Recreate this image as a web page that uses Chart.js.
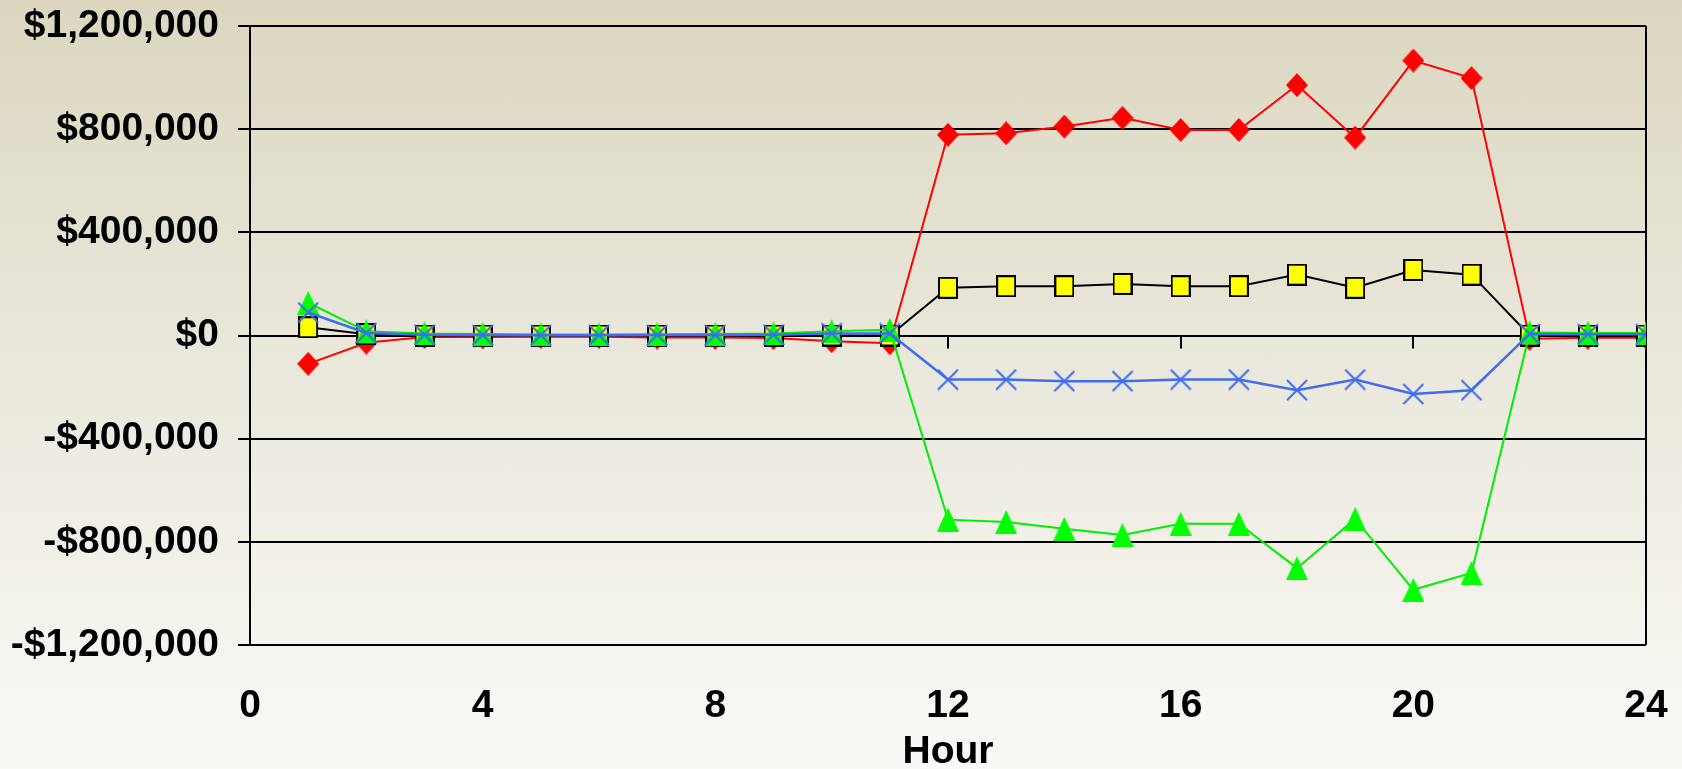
<!DOCTYPE html>
<html>
<head>
<meta charset="utf-8">
<script src="https://cdn.jsdelivr.net/npm/chart.js@4/dist/chart.umd.min.js"></script>
<style>
  html, body { margin: 0; padding: 0; }
  body {
    width: 1682px; height: 769px; overflow: hidden;
    background: linear-gradient(to bottom, #dbd7bf 0%, #e9e6da 43%, #faf9f5 100%);
  }
  #wrap { position: relative; width: 1682px; height: 769px; }
</style>
</head>
<body>
<div id="wrap"><canvas id="chart" width="1682" height="769"></canvas></div>
<script>
// Hourly values (dollars) for each series
const hours = [1, 2, 3, 4, 5, 6, 7, 8, 9, 10, 11, 12, 13, 14, 15, 16, 17, 18, 19, 20, 21, 22, 23, 24];

const redSeries = [-110000, -28000, -6000, -6000, -5000, -5000, -8000, -8000, -10000, -22000, -30000,
  778000, 784000, 810000, 844000, 797000, 797000, 971000, 767000, 1066000, 998000, -13000, -9000, -9000];

const yellowSeries = [32000, 5000, 0, 0, 0, 0, 0, 0, 0, 0, 0,
  185000, 191000, 191000, 200000, 191000, 191000, 236000, 185000, 254000, 236000, 0, 0, 0];

const greenSeries = [127000, 16000, 8000, 6000, 4000, 4000, 5000, 6000, 8000, 16000, 22000,
  -714000, -723000, -749000, -773000, -730000, -730000, -902000, -711000, -986000, -921000, 12000, 10000, 10000];

const blueSeries = [89000, 10000, 3000, 2000, 1000, 1000, 2000, 2000, 3000, 8000, 8000,
  -171000, -171000, -177000, -177000, -171000, -171000, -212000, -171000, -227000, -212000, 6000, 5000, 5000];

const yTicks = [-1200000, -800000, -400000, 0, 400000, 800000, 1200000];
const xTicks = [0, 4, 8, 12, 16, 20, 24];

const FONT = "'Liberation Sans', Arial, sans-serif";

function toPoints(values) {
  return hours.map((h, i) => ({ x: h, y: values[i] }));
}

function formatDollars(v) {
  const s = '$' + Math.abs(v).toLocaleString('en-US');
  return v < 0 ? '-' + s : s;
}

// Marker glyphs drawn on small canvases
function makeMarker(w, h, draw) {
  const c = document.createElement('canvas');
  c.width = w; c.height = h;
  draw(c.getContext('2d'), w, h);
  return c;
}

const diamond = makeMarker(22, 24, (g, w, h) => {
  g.fillStyle = '#ff0000';
  g.beginPath();
  g.moveTo(w / 2, 0); g.lineTo(w, h / 2); g.lineTo(w / 2, h); g.lineTo(0, h / 2);
  g.closePath(); g.fill();
});

const square = makeMarker(20, 22, (g, w, h) => {
  g.fillStyle = '#ffff00';
  g.fillRect(1, 1, w - 2, h - 2);
  g.strokeStyle = '#000000';
  g.lineWidth = 2;
  g.strokeRect(1, 1, w - 2, h - 2);
});

const triangle = makeMarker(22, 24, (g, w, h) => {
  g.fillStyle = '#00ff00';
  g.beginPath();
  g.moveTo(w / 2, 0); g.lineTo(w, h); g.lineTo(0, h);
  g.closePath(); g.fill();
});

const cross = makeMarker(22, 22, (g, w, h) => {
  g.strokeStyle = '#3f6cf0';
  g.lineWidth = 2;
  g.beginPath();
  g.moveTo(1, 1); g.lineTo(w - 1, h - 1);
  g.moveTo(w - 1, 1); g.lineTo(1, h - 1);
  g.stroke();
});

// Short tick marks hanging below the zero line
const zeroLineTicks = {
  id: 'zeroLineTicks',
  beforeDatasetsDraw(chart) {
    const { ctx, scales: { x, y } } = chart;
    const y0 = y.getPixelForValue(0);
    ctx.save();
    ctx.strokeStyle = '#000000';
    ctx.lineWidth = 2;
    ctx.beginPath();
    xTicks.slice(1, -1).forEach(v => {
      const px = Math.round(x.getPixelForValue(v));
      ctx.moveTo(px, y0);
      ctx.lineTo(px, y0 + 13);
    });
    ctx.stroke();
    ctx.restore();
  }
};

new Chart(document.getElementById('chart'), {
  type: 'line',
  data: {
    datasets: [
      { data: toPoints(blueSeries), borderColor: '#3f6cf0', borderWidth: 2.5,
        pointStyle: cross, pointRadius: 11, order: 1 },
      { data: toPoints(greenSeries), borderColor: '#00ee00', borderWidth: 2,
        pointStyle: triangle, pointRadius: 12, order: 2 },
      { data: toPoints(yellowSeries), borderColor: '#000000', borderWidth: 2,
        pointStyle: square, pointRadius: 11, order: 3 },
      { data: toPoints(redSeries), borderColor: '#ff0000', borderWidth: 2,
        pointStyle: diamond, pointRadius: 12, order: 4 }
    ]
  },
  options: {
    responsive: false,
    animation: false,
    events: [],
    layout: { autoPadding: false, padding: { left: 0, right: 36, top: 26, bottom: 0 } },
    elements: { line: { tension: 0, fill: false } },
    plugins: { legend: { display: false }, tooltip: { enabled: false } },
    scales: {
      x: {
        type: 'linear',
        min: 0, max: 24,
        afterBuildTicks(scale) { scale.ticks = xTicks.map(v => ({ value: v })); },
        afterFit(scale) {
          scale.height = 124;
          scale.paddingLeft = 0; scale.paddingRight = 0;
        },
        grid: {
          drawTicks: false,
          lineWidth: 2,
          color: ctx => (ctx.tick && ctx.tick.value === 24 ? '#000000' : 'rgba(0,0,0,0)')
        },
        border: { display: false },
        ticks: {
          padding: 38,
          color: '#000000',
          font: { family: FONT, size: 39, weight: 'bold' }
        },
        title: {
          display: true,
          text: 'Hour',
          color: '#000000',
          font: { family: FONT, size: 39, weight: 'bold', lineHeight: 0.85 },
          padding: { top: 0, bottom: 0 }
        }
      },
      y: {
        min: -1200000, max: 1200000,
        afterBuildTicks(scale) { scale.ticks = yTicks.map(v => ({ value: v })); },
        afterFit(scale) {
          scale.width = 250;
          scale.paddingTop = 0; scale.paddingBottom = 0;
        },
        grid: { color: '#000000', lineWidth: 2, tickLength: 12, drawTicks: true },
        border: { display: true, color: '#000000', width: 2 },
        ticks: {
          padding: 19,
          color: '#000000',
          font: { family: FONT, size: 39, weight: 'bold' },
          callback: v => formatDollars(v)
        }
      }
    }
  },
  plugins: [zeroLineTicks]
});
</script>
</body>
</html>
